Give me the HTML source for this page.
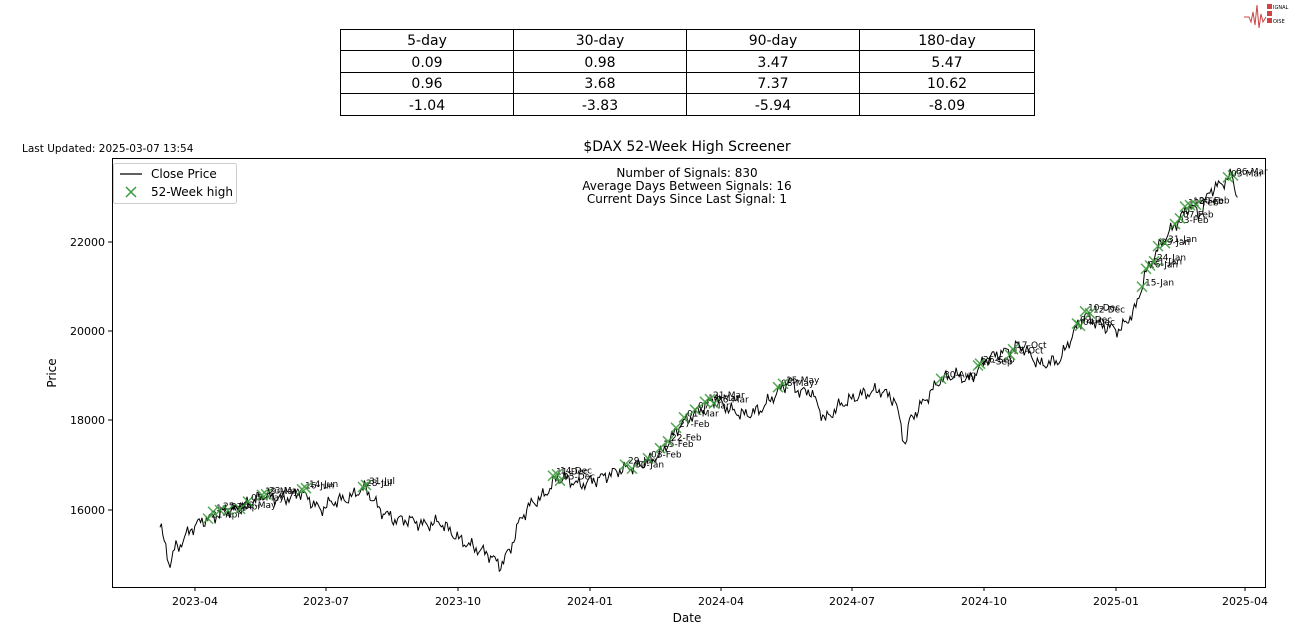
<!DOCTYPE html>
<html><head><meta charset="utf-8"><style>
body{margin:0;background:#fff;width:1292px;height:634px;overflow:hidden;font-family:"Liberation Sans","DejaVu Sans",sans-serif}
svg text{font-family:"DejaVu Sans","Liberation Sans",sans-serif}
</style></head><body>
<svg id="s" width="1292" height="634" xmlns="http://www.w3.org/2000/svg">
<!-- table -->
<g stroke="#000" stroke-width="1" fill="none">
<rect x="340.5" y="29.5" width="694" height="86"/>
<line x1="340" y1="50.5" x2="1034" y2="50.5"/><line x1="340" y1="72.5" x2="1034" y2="72.5"/><line x1="340" y1="93.5" x2="1034" y2="93.5"/>
<line x1="513.5" y1="29" x2="513.5" y2="115"/><line x1="686.5" y1="29" x2="686.5" y2="115"/><line x1="859.5" y1="29" x2="859.5" y2="115"/>
</g>
<g font-size="14" text-anchor="middle" fill="#000">
<text x="427" y="45">5-day</text><text x="600" y="45">30-day</text><text x="773" y="45">90-day</text><text x="947" y="45">180-day</text>
<text x="427" y="67">0.09</text><text x="600" y="67">0.98</text><text x="773" y="67">3.47</text><text x="947" y="67">5.47</text>
<text x="427" y="88">0.96</text><text x="600" y="88">3.68</text><text x="773" y="88">7.37</text><text x="947" y="88">10.62</text>
<text x="427" y="110">-1.04</text><text x="600" y="110">-3.83</text><text x="773" y="110">-5.94</text><text x="947" y="110">-8.09</text>
</g>
<!-- logo -->
<polyline points="1244,17 1249,17 1251,22 1253,12 1255,25 1257,5 1259,28 1261,14 1263,22 1266,17" fill="none" stroke="#c44" stroke-width="1"/>
<rect x="1267" y="4" width="5" height="5" fill="#c44"/><rect x="1267" y="11" width="5" height="5" fill="#c44"/><rect x="1267" y="18" width="5" height="5" fill="#c44"/>
<text x="1273" y="9" font-size="5">IGNAL</text><text x="1273" y="23" font-size="5">OISE</text>
<text x="22" y="152" font-size="10.5">Last Updated: 2025-03-07 13:54</text>
<text x="687" y="151" font-size="14" text-anchor="middle">$DAX 52-Week High Screener</text>
<rect x="112.5" y="158.5" width="1153" height="429" fill="none" stroke="#000"/>
<g font-size="12" text-anchor="middle">
<text x="687" y="177">Number of Signals: 830</text>
<text x="687" y="190">Average Days Between Signals: 16</text>
<text x="687" y="203">Current Days Since Last Signal: 1</text>
</g>
<g id="ticks" font-size="11"></g>
<text x="687" y="622" font-size="12" text-anchor="middle">Date</text>
<text x="56" y="373" font-size="12" text-anchor="middle" transform="rotate(-90 56 373)">Price</text>
<g id="plot"></g>
<!-- legend -->
<rect x="113.5" y="163.5" width="123" height="40" rx="2" fill="#fff" fill-opacity="0.8" stroke="#ccc"/>
<line x1="120" y1="174" x2="142" y2="174" stroke="#000" stroke-width="1.2"/>
<text x="151" y="178" font-size="12">Close Price</text>
<path d="M126,187 l10,10 M136,187 l-10,10" stroke="#3a9a3a" stroke-width="1.5"/>
<text x="151" y="196" font-size="12">52-Week high</text>
</svg>
<script>
var NS="http://www.w3.org/2000/svg";
function el(t,a,p,txt){var e=document.createElementNS(NS,t);for(var k in a)e.setAttribute(k,a[k]);if(txt)e.textContent=txt;(p||document.getElementById('plot')).appendChild(e);return e;}
var tk=document.getElementById('ticks');
var xl=[["2023-04",195],["2023-07",326],["2023-10",458],["2024-01",590],["2024-04",721],["2024-07",852],["2024-10",984],["2025-01",1116],["2025-04",1245]];
xl.forEach(function(d){el('line',{x1:d[1],y1:587,x2:d[1],y2:591,stroke:'#000'},tk);el('text',{x:d[1],y:605,'text-anchor':'middle'},tk,d[0]);});
[[16000,510],[18000,420],[20000,331],[22000,242]].forEach(function(d){el('line',{x1:108,y1:d[1],x2:112,y2:d[1],stroke:'#000'},tk);el('text',{x:105,y:d[1]+4,'text-anchor':'end'},tk,d[0]);});
var A=[[160,525],[165,545],[170,565],[175,548],[180,545],[190,530],[200,522],[210,518],[225,512],[240,508],[255,500],[265,495],[275,498],[290,498],[300,492],[310,500],[320,510],[330,503],[340,500],[350,498],[360,490],[365,488],[370,495],[380,510],[395,520],[410,520],[425,525],[440,522],[460,540],[475,548],[490,555],[500,566],[510,550],[520,520],[530,505],[545,495],[555,480],[565,478],[580,485],[600,478],[620,470],[640,465],[660,455],[680,425],[700,410],[715,398],[730,410],[745,415],[760,410],[775,395],[790,380],[800,393],[810,390],[825,420],[840,405],[860,395],[880,390],[895,400],[905,445],[910,420],[925,400],[940,380],[955,375],[970,380],[985,360],[995,355],[1010,350],[1020,345],[1040,365],[1060,360],[1075,330],[1085,315],[1100,325],[1120,330],[1135,310],[1145,275],[1160,245],[1175,225],[1190,205],[1200,215],[1210,190],[1220,185],[1232,175],[1238,200]];
function base(x){for(var i=0;i<A.length-1;i++){if(x<=A[i+1][0]){var t=(x-A[i][0])/(A[i+1][0]-A[i][0]);return A[i][1]+t*(A[i+1][1]-A[i][1]);}}return A[A.length-1][1];}
var pts=[];for(var x=160;x<=1238;x+=1.45){var n=Math.sin(x*1.7)*3+Math.sin(x*0.53)*4+Math.sin(x*3.1)*2;pts.push(x.toFixed(1)+","+(base(x)+n).toFixed(1));}
el('polyline',{points:pts.join(' '),fill:'none',stroke:'#000','stroke-width':1});
var M=[[208,"21-Apr"],[213,"14-Apr"],[220,"25-Apr"],[228,"27-Apr"],[240,"02-May"],[248,"05-May"],[262,"19-May"],[266,"23-May"],[302,"16-Jun"],[306,"14-Jun"],[363,"28-Jul"],[366,"31-Jul"],[553,"11-Dec"],[557,"14-Dec"],[560,"05-Dec"],[625,"29-Jan"],[632,"30-Jan"],[648,"08-Feb"],[660,"15-Feb"],[668,"22-Feb"],[676,"27-Feb"],[684,"01-Mar"],[695,"07-Mar"],[705,"14-Mar"],[710,"21-Mar"],[714,"26-Mar"],[778,"08-May"],[783,"15-May"],[941,"30-Aug"],[978,"27-Sep"],[980,"26-Sep"],[1010,"18-Oct"],[1013,"17-Oct"],[1077,"02-Dec"],[1080,"04-Dec"],[1085,"10-Dec"],[1090,"12-Dec"],[1142,"15-Jan"],[1146,"16-Jan"],[1150,"21-Jan"],[1154,"24-Jan"],[1158,"29-Jan"],[1165,"31-Jan"],[1175,"03-Feb"],[1180,"07-Feb"],[1185,"12-Feb"],[1190,"18-Feb"],[1196,"20-Feb"],[1233,"06-Mar"],[1228,"03-Mar"]];
M.forEach(function(m){var x=m[0],y=base(x)+Math.sin(x*1.7)*3+Math.sin(x*0.53)*4-2;
el('path',{d:'M'+(x-5)+','+(y-5)+' l10,10 M'+(x+5)+','+(y-5)+' l-10,10',stroke:'#3a9a3a','stroke-width':1.5,'stroke-opacity':0.85});
el('text',{x:x+3,y:y-1,'font-size':9},null,m[1]);});
</script>
</body></html>
